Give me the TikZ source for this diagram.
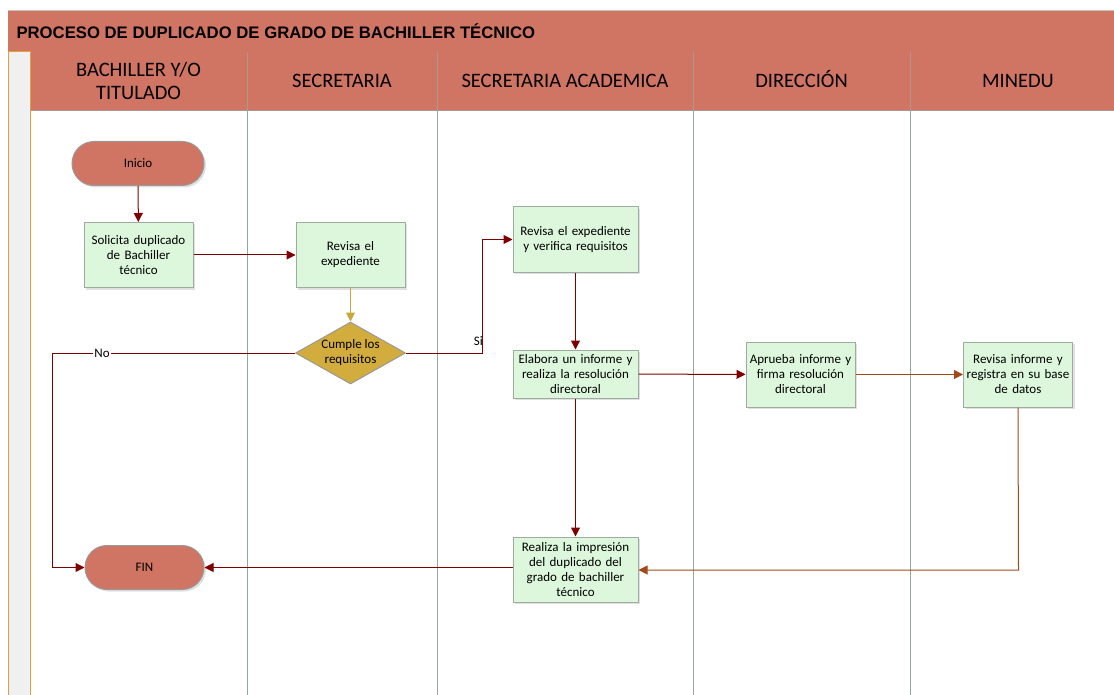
\documentclass[tikz,border=0pt]{standalone}
\usepackage{fontspec}
\setmainfont{Carlito}
\newfontfamily\titlefont{Liberation Sans}
\usetikzlibrary{arrows.meta,shapes.geometric,shadows}
\definecolor{hdr}{HTML}{D07464}
\definecolor{hdrline}{HTML}{A89890}
\definecolor{lane}{HTML}{90A8A0}
\definecolor{boxfill}{HTML}{DDF7DD}
\definecolor{boxline}{HTML}{A0AAA0}
\definecolor{gold}{HTML}{D2AC3C}
\definecolor{goldline}{HTML}{C8A83C}
\definecolor{darkred}{HTML}{800000}
\definecolor{brown}{HTML}{A04A1A}
\definecolor{stripfill}{HTML}{F0F0F0}
\definecolor{stripline}{HTML}{E0A040}
\tikzset{
  procbox/.style={draw=boxline, line width=1pt, fill=boxfill, minimum width=109pt, minimum height=65pt,
    text width=109pt, align=center, font=\fontsize{13}{15}\selectfont, inner sep=0pt,
    drop shadow={shadow xshift=2pt, shadow yshift=-2pt, fill=black!20, opacity=0.6}},
  termbox/.style={draw=gray!80, line width=1pt, fill=hdr, minimum height=44pt, rounded corners=22pt,
    font=\fontsize{13}{15}\selectfont,
    drop shadow={shadow xshift=2pt, shadow yshift=-2pt, fill=black!20, opacity=0.6}},
  decbox/.style={diamond, draw=gray!80, line width=1pt, fill=gold, minimum width=110pt, minimum height=62pt,
    aspect=1.77, inner sep=0pt, align=center, font=\fontsize{13}{15}\selectfont},
  flow/.style={draw=darkred, line width=1pt, -{Triangle[length=9pt,width=9pt]}},
  flowb/.style={draw=brown, line width=1pt, -{Triangle[length=9pt,width=9pt]}},
  flowg/.style={draw=goldline, line width=1pt, -{Triangle[length=9pt,width=9pt]}},
  lanehead/.style={font=\fontsize{20.5}{23}\selectfont, align=center},
  lanesep/.style={draw=lane, line width=1pt},
}
\begin{document}
\begin{tikzpicture}[x=1pt,y=-1pt]
\useasboundingbox (0,0) rectangle (1114,695);
% title bar
\fill[hdr] (8,10) rectangle (1114,52);
\draw[hdrline, line width=0.8pt] (8,52) -- (1114,52);
\draw[hdrline!60, line width=0.6pt] (8,10) -- (1114,10);
\node[anchor=west, font=\titlefont\bfseries\fontsize{16.7}{19}\selectfont] (title) at (13,31) {PROCESO DE DUPLICADO DE GRADO DE BACHILLER TÉCNICO};
% header row
\fill[hdr] (30,52) rectangle (1114,110);
\draw[hdrline, line width=0.8pt] (30,110) -- (1114,110);
% left strip
\filldraw[fill=stripfill, draw=stripline, line width=1pt] (8,52) rectangle (30,700);
% lane separators
\foreach \xx in {247,437,693,910} {
  \draw[hdrline, line width=0.8pt] (\xx,52) -- (\xx,110);
  \draw[lanesep] (\xx,110) -- (\xx,700);
}
% lane headers
\node[lanehead] (h1) at (138.5,81) {BACHILLER Y/O\\TITULADO};
\node[lanehead, anchor=base] (h2) at (342,88) {SECRETARIA};
\node[lanehead, anchor=base] (h3) at (565,88) {SECRETARIA ACADEMICA};
\node[lanehead, anchor=base] (h4) at (801.5,88) {DIRECCIÓN};
\node[lanehead, anchor=base] (h5) at (1018,88) {MINEDU};
% nodes
\node[termbox, minimum width=132pt] (inicio) at (138,163.5) {Inicio};
\node[procbox] (solicita) at (138.5,255) {Solicita duplicado\\de Bachiller\\técnico};
\node[procbox] (revisa) at (350.5,255) {Revisa el\\expediente};
\node[decbox] (cumple) at (350.5,353) {Cumple los\\requisitos};
\node[procbox, minimum width=125pt, text width=125pt] (verifica) at (575.5,239.5) {Revisa el expediente\\y verifica requisitos};
\node[procbox, minimum width=125pt, text width=125pt, minimum height=48pt] (elabora) at (575.5,374) {Elabora un informe y\\realiza la resolución\\directoral};
\node[procbox] (aprueba) at (800.5,374.5) {Aprueba informe y\\firma resolución\\directoral};
\node[procbox] (registra) at (1018,374.5) {Revisa informe y\\registra en su base\\de datos};
\node[procbox, minimum width=125pt, text width=125pt] (realiza) at (575.5,569.5) {Realiza la impresión\\del duplicado del\\grado de bachiller\\técnico};
\node[termbox, minimum width=119pt] (fin) at (144.5,567.5) {FIN};
% connectors
\coordinate (siup) at (482,239.5);
\coordinate (sidown) at (482,353);
\coordinate (noleft) at (52,353);
\coordinate (nodown) at (52,567.5);
\coordinate (regdown) at (1018.5,570);
\draw[flow] (inicio) -- (solicita);
\draw[flow] (solicita) -- (revisa);
\draw[flowg] (revisa) -- (cumple);
\draw[flow] (cumple.east) -- (sidown) -- (siup) -- (verifica.west);
\node[font=\fontsize{13}{15}\selectfont, anchor=east, inner sep=1pt] (si) at (484,341) {Si};
\draw[flow] (cumple.west) -- (noleft) -- (nodown) -- (fin.west);
\node[font=\fontsize{13}{15}\selectfont, fill=white, inner sep=1pt] (no) at (102,353) {No};
\draw[flow] (verifica) -- (elabora);
\draw[flow] (elabora) -- (aprueba);
\draw[flowb] (aprueba) -- (registra);
\draw[flowb] (registra.south) -- (regdown) -- (realiza.east |- regdown);
\draw[flow] (elabora) -- (realiza);
\draw[flow] (realiza.west |- fin) -- (fin.east);
\end{tikzpicture}
\end{document}
